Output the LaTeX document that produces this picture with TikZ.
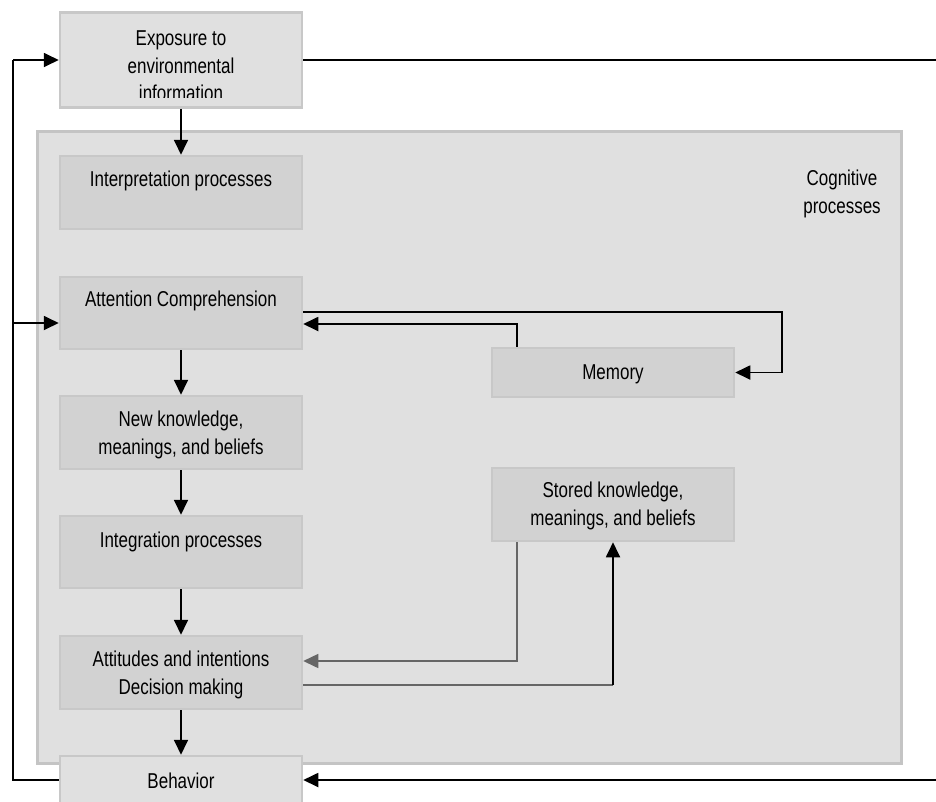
\documentclass[tikz,border=0pt]{standalone}
\usepackage{fontspec}
\setmainfont{Liberation Sans}[FakeStretch=0.79]
\usetikzlibrary{arrows.meta}
\definecolor{panelfill}{HTML}{E0E0E0}
\definecolor{panelline}{HTML}{C4C4C4}
\definecolor{boxfill}{HTML}{D2D2D2}
\definecolor{boxline}{HTML}{C8C8C8}
\definecolor{greyarrow}{HTML}{666666}
\tikzset{
  x=1pt, y=-1pt,
  panel/.style={draw=panelline, fill=panelfill, line width=3pt, inner sep=0pt},
  outerbox/.style={draw=boxline, fill=panelfill, line width=2.5pt, inner sep=0pt,
    minimum width=242pt},
  innerbox/.style={draw=boxline, fill=boxfill, line width=2.5pt, inner sep=0pt,
    minimum width=242pt},
  txt/.style={inner sep=0pt, align=center, text=black,
    font=\fontsize{21.5}{28}\selectfont},
  flow/.style={line width=1.8pt, draw=black,
    -{Triangle[length=15pt,width=14pt]}},
  plain/.style={line width=1.8pt, draw=black},
  greyflow/.style={line width=1.5pt, draw=greyarrow,
    -{Triangle[length=15pt,width=14pt]}},
  greyline/.style={line width=1.5pt, draw=greyarrow},
}
\begin{document}
\begin{tikzpicture}
\useasboundingbox[fill=white] (0,0) rectangle (936,801);

% cognitive processes panel
\node[panel, minimum width=864pt, minimum height=632pt] (cog) at (469,447) {};
\node[txt] (cogtxt) at (842,193.5) {Cognitive\\processes};

% boxes
\node[outerbox, minimum height=95pt] (expo) at (181,60) {};
\begin{scope}
  \clip (60,12) rectangle (302,97);
  \node[txt, font=\fontsize{21.5}{27.5}\selectfont] (expotxt) at (181,66) {Exposure to\\environmental\\information};
\end{scope}

\node[innerbox, minimum height=73pt] (interp) at (181,192.5) {};
\node[txt] (interptxt) at (181,181) {Interpretation processes};

\node[innerbox, minimum height=72pt] (att) at (181,313) {};
\node[txt] (atttxt) at (181,301) {Attention Comprehension};

\node[innerbox, minimum height=49pt] (mem) at (613,372.5) {};
\node[txt] (memtxt) at (613,374) {Memory};

\node[innerbox, minimum height=73pt] (newk) at (181,432.5) {};
\node[txt] (newktxt) at (181,435) {New knowledge,\\meanings, and beliefs};

\node[innerbox, minimum height=73pt] (stored) at (613,504.5) {};
\node[txt] (storedtxt) at (613,506) {Stored knowledge,\\meanings, and beliefs};

\node[innerbox, minimum height=72pt] (integ) at (181,552) {};
\node[txt] (integtxt) at (181,542) {Integration processes};

\node[innerbox, minimum height=73pt] (attit) at (181,672.5) {};
\node[txt] (attittxt) at (181,675) {Attitudes and intentions\\Decision making};

\node[outerbox, minimum height=48pt] (behav) at (181,780) {};
\node[txt] (behavtxt) at (181,781) {Behavior};

% connector corners and free ends
\coordinate (leftrail) at (13,0);
\coordinate (rightexit) at (936,60);
\coordinate (rightentry) at (936,780);
\coordinate (memloop) at (782,0);
\coordinate (memup) at (517,0);
\coordinate (storeddown) at (517,0);
\coordinate (storedturn) at (613,685);

% main vertical flow
\draw[flow] (expo.south) -- (interp.north);
\draw[flow] (att.south) -- (newk.north);
\draw[flow] (newk.south) -- (integ.north);
\draw[flow] (integ.south) -- (attit.north);
\draw[flow] (attit.south) -- (behav.north);

% feedback from behavior to exposure and attention
\draw[plain] (behav.west) -| (leftrail |- expo.west);
\draw[flow] (leftrail |- expo.west) -- (expo.west);
\draw[flow] (leftrail |- 0,323) -- (att.west |- 0,323);

% exposure leaves to the right, behavior is reached from the right
\draw[plain] (expo.east) -- (rightexit);
\draw[flow] (rightentry) -- (behav.east);

% attention <-> memory
\draw[flow] (att.east |- 0,312) -| (memloop |- 0,312) |- (mem.east);
\draw[flow] (memup |- mem.north) |- (att.east |- 0,324);

% stored knowledge <-> attitudes
\draw[greyflow] (storeddown |- stored.south) |- (attit.east |- 0,661);
\draw[greyline] (attit.east |- storedturn) -- (storedturn);
\draw[flow] (storedturn) -- (stored.south);
\end{tikzpicture}
\end{document}
